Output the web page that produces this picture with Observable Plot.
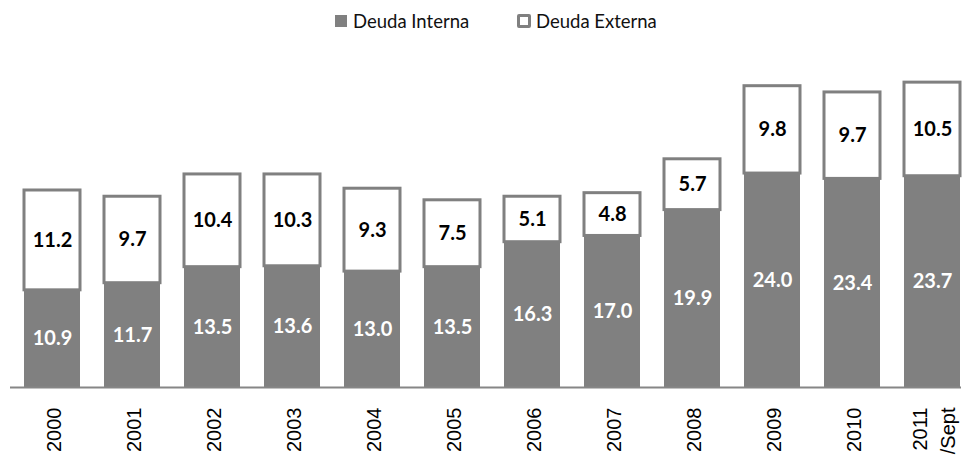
<!DOCTYPE html>
<html><head><meta charset="utf-8">
<script src="https://cdn.jsdelivr.net/npm/d3@7"></script>
<script src="https://cdn.jsdelivr.net/npm/@observablehq/plot@0.6"></script>
<style>
body{margin:0;background:#fff;font-family:Lato,"Open Sans",sans-serif;}
#legend{position:relative;height:38px;width:962px;font-size:18.5px;color:#111;}
.item{position:absolute;top:11px;display:flex;align-items:center;line-height:20px;}
.sw{box-sizing:border-box;display:inline-block;}
g[aria-label="x-axis tick label"]{font-family:"Liberation Sans",Arial,sans-serif;}
</style></head><body>
<div id="legend"></div><div id="chart"></div>
<script>
const years = ["2000","2001","2002","2003","2004","2005","2006","2007","2008","2009","2010","2011"];
const tickLabels = ["2000","2001","2002","2003","2004","2005","2006","2007","2008","2009","2010","2011\n/Sept"];
const interna = [10.9,11.7,13.5,13.6,13.0,13.5,16.3,17.0,19.9,24.0,23.4,23.7];
const externa = [11.2,9.7,10.4,10.3,9.3,7.5,5.1,4.8,5.7,9.8,9.7,10.5];
const seriesNames = ["Deuda Interna","Deuda Externa"];

const rows = years.map((y,i)=>({year:y, interna:interna[i], externa:externa[i], total:interna[i]+externa[i]}));
const labelOf = new Map(years.map((y,i)=>[y,tickLabels[i]]));

const grey = "#808080";
const legend = document.getElementById("legend");
const legendX = [335, 517];
seriesNames.forEach((n,i)=>{
  const d = document.createElement("div");
  d.className = "item";
  d.style.left = legendX[i]+"px";
  const s = document.createElement("span");
  s.className = "sw";
  if (i===0) { s.style.background = grey; s.style.width="12px"; s.style.height="12px"; s.style.marginRight="6px"; }
  else { s.style.background = "#fff"; s.style.border = "3px solid "+grey; s.style.borderRadius="2px"; s.style.width="14px"; s.style.height="14px"; s.style.marginRight="5px"; }
  const t = document.createElement("span");
  t.textContent = n;
  d.append(s,t);
  legend.append(d);
});

const chart = Plot.plot({
  width: 962,
  height: 417,
  marginLeft: 22,
  marginRight: 1,
  marginTop: 37,
  marginBottom: 68,
  style: {fontFamily: "Lato, 'Open Sans', sans-serif", background: "#fff"},
  x: {domain: years, paddingInner: 0.3, paddingOuter: 0, label: null},
  y: {domain: [0, 35], axis: null},
  marks: [
    Plot.barY(rows, {x: "year", y1: 0, y2: "interna", fill: grey}),
    Plot.barY(rows, {x: "year", y1: "interna", y2: "total", fill: "#fff", stroke: grey, strokeWidth: 3}),
    Plot.text(rows, {x: "year", y: d => d.interna/2, text: d => d.interna.toFixed(1), fill: "#fff", fontWeight: "bold", fontSize: 20}),
    Plot.text(rows, {x: "year", y: d => d.interna + d.externa/2, text: d => d.externa.toFixed(1), fill: "#000", fontWeight: "bold", fontSize: 20}),
    Plot.ruleY([0], {stroke: "#868686", strokeWidth: 2, insetLeft: -12}),
    Plot.axisX({tickSize: 0, tickPadding: 20, rotate: -90, textAnchor: "end", lineAnchor: "middle", lineHeight: 1.4, fontSize: 20, fill: "#000", tickFormat: d => labelOf.get(d), label: null})
  ]
});
document.getElementById("chart").append(chart);
</script>
</body></html>
